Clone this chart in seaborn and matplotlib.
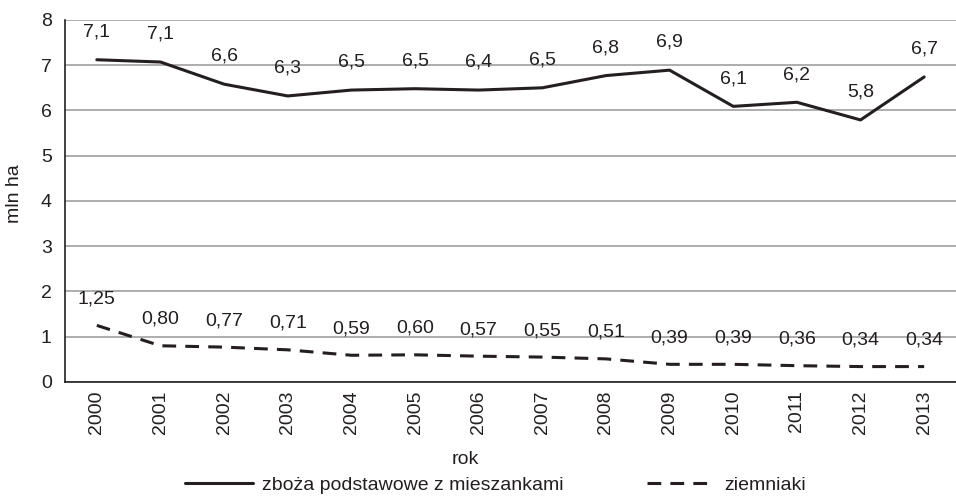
import seaborn as sns
import matplotlib.pyplot as plt
import pandas as pd

# data
years = ["2000", "2001", "2002", "2003", "2004", "2005", "2006",
         "2007", "2008", "2009", "2010", "2011", "2012", "2013"]
cereals = [7.12, 7.07, 6.58, 6.32, 6.45, 6.48, 6.45, 6.50, 6.77, 6.89, 6.09, 6.18, 5.79, 6.74]
cereals_labels = ["7,1", "7,1", "6,6", "6,3", "6,5", "6,5", "6,4", "6,5", "6,8", "6,9", "6,1", "6,2", "5,8", "6,7"]
potatoes = [1.25, 0.80, 0.77, 0.71, 0.59, 0.60, 0.57, 0.55, 0.51, 0.39, 0.39, 0.36, 0.34, 0.34]
potatoes_labels = ["1,25", "0,80", "0,77", "0,71", "0,59", "0,60", "0,57", "0,55", "0,51", "0,39", "0,39", "0,36", "0,34", "0,34"]

name_c = "zboża podstawowe z mieszankami"
name_p = "ziemniaki"

df = pd.DataFrame({
    "pos": list(range(len(years))) * 2,
    "val": cereals + potatoes,
    "seria": [name_c] * len(years) + [name_p] * len(years),
})

sns.set_style("white")
plt.rcParams["font.family"] = ["Liberation Sans", "DejaVu Sans"]
ink = "#231f20"
fs = 14

fig = plt.figure(figsize=(9.56, 4.98), dpi=100)
ax = fig.add_axes([0.068, 0.233, 0.932, 0.727])

sns.lineplot(data=df, x="pos", y="val", style="seria",
             dashes={name_c: "", name_p: (4.5, 3)},
             color=ink, linewidth=2.2, ax=ax, legend=True)

for i, (v, t) in enumerate(zip(cereals, cereals_labels)):
    ax.annotate(t, (i, v), xytext=(0, 20), textcoords="offset points",
                ha="center", va="center", fontsize=fs, color=ink)
for i, (v, t) in enumerate(zip(potatoes, potatoes_labels)):
    ax.annotate(t, (i, v), xytext=(0, 19), textcoords="offset points",
                ha="center", va="center", fontsize=fs, color=ink)

ax.set_xlim(-0.5, len(years) - 0.5)
ax.set_ylim(0, 8)
ax.set_yticks(range(0, 9))
ax.yaxis.grid(True, color="#a0a0a0", linewidth=1.2)
ax.set_axisbelow(True)

ax.set_xticks(range(len(years)))
ax.set_xticklabels(years, rotation=90)
ax.set_xticks([i - 0.5 for i in range(len(years) + 1)], minor=True)
ax.tick_params(axis="x", which="major", length=0, pad=6, labelsize=fs, labelcolor=ink)
ax.tick_params(axis="x", which="minor", length=3.6, width=1, color=ink, direction="out")
ax.tick_params(axis="y", length=3.6, width=1, color=ink, direction="out", pad=6,
               labelsize=fs, labelcolor=ink)

for s in ["top", "right"]:
    ax.spines[s].set_visible(False)
for s in ["left", "bottom"]:
    ax.spines[s].set_color(ink)
    ax.spines[s].set_linewidth(1.2)

ax.set_xlabel("rok", fontsize=fs, color=ink)
ax.set_ylabel("mln ha", fontsize=fs, color=ink)
ax.xaxis.set_label_coords(0.449, -0.19)
ax.yaxis.set_label_coords(-0.047, 0.52)

handles, labels = ax.get_legend_handles_labels()
ax.legend_.remove()
fig.legend(handles, labels, loc="center left", bbox_to_anchor=(0.1935, 0.026), ncol=2,
           frameon=False, fontsize=fs, handlelength=3.5, handletextpad=0.45,
           columnspacing=4.3, borderpad=0, borderaxespad=0, labelcolor=ink)

fig.savefig("out.png", dpi=100)
